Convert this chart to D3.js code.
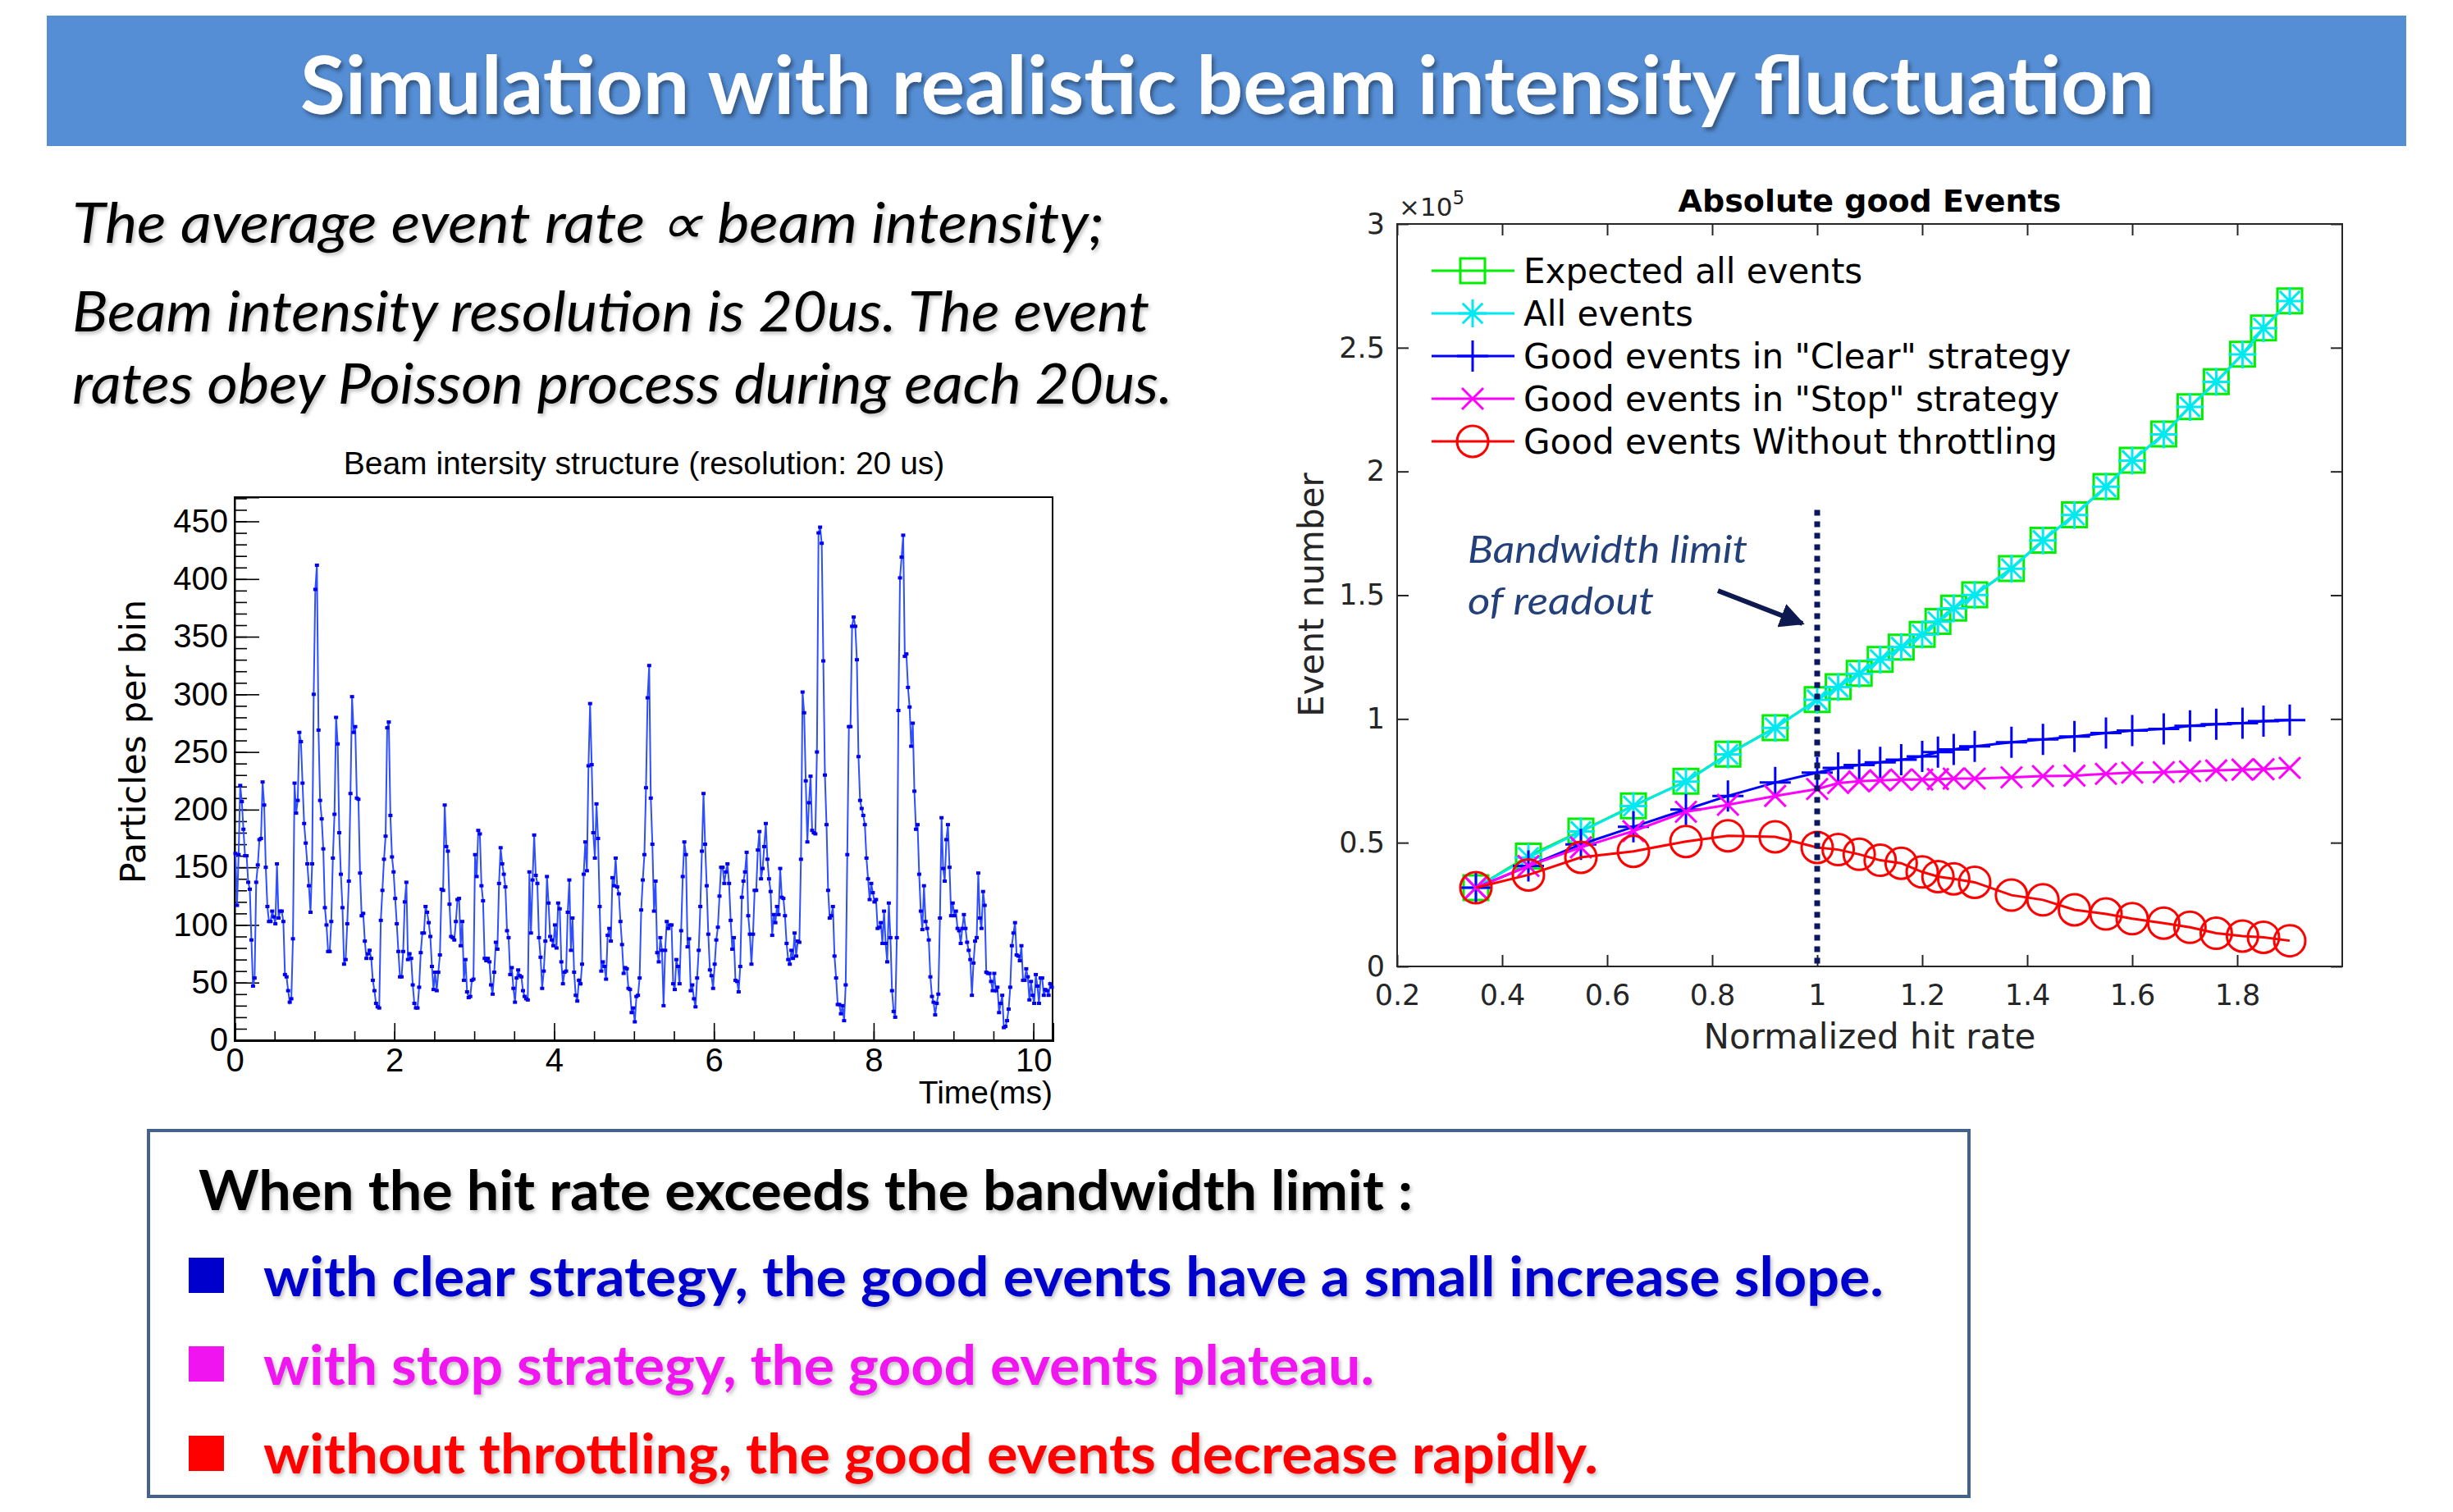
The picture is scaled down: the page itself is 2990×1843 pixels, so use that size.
<!DOCTYPE html>
<html>
<head>
<meta charset="utf-8">
<script src="https://cdn.jsdelivr.net/npm/d3@7"></script>
<style>
  body { margin: 0; background: #fff; }
</style>
</head>
<body>
<svg id="slide"></svg>
<script>
// ---- data: beam intensity per 20 us bin ----
const binWidthMs = 0.02;
const beamCounts = [
  162,117,161,221,207,183,160,160,137,131,
  87,47,54,137,152,174,175,224,204,150,
  116,103,103,112,107,101,153,106,112,112,
  103,57,55,43,33,36,88,223,197,208,
  267,259,223,188,171,153,134,111,153,300,
  391,412,269,208,192,166,115,100,77,77,
  103,158,196,280,257,180,144,115,66,70,
  101,138,214,298,267,272,210,209,145,108,
  110,86,71,75,78,71,52,43,32,29,
  28,104,130,157,177,271,276,195,159,146,
  123,101,77,55,55,77,120,137,70,75,
  71,48,32,28,28,46,76,93,93,116,
  111,102,90,64,44,59,43,59,74,131,
  130,204,168,164,118,90,89,
  87,103,122,123,82,103,52,70,42,
  37,38,52,53,161,142,182,179,134,121,
  71,69,71,68,48,40,59,85,79,136,
  167,153,144,133,95,89,57,63,45,
  33,54,61,56,55,43,38,36,35,146,
  93,139,178,143,136,89,72,45,
  60,86,142,119,90,87,82,100,80,
  119,114,68,49,59,60,111,139,78,
  106,59,39,34,52,49,66,144,172,
  147,238,292,239,180,158,205,175,
  116,60,68,64,53,91,97,86,141,
  134,158,133,127,103,83,58,63,62,
  45,44,24,28,16,38,39,54,
  113,139,161,
  219,297,325,210,170,112,138,76,
  68,89,78,30,78,103,97,100,
  100,49,44,70,64,49,95,142,172,
  161,81,88,43,48,36,29,54,78,
  116,164,214,170,134,92,61,
  56,45,66,87,98,125,150,150,136,146,
  153,136,104,79,89,52,51,42,
  64,124,138,146,163,108,92,66,
  92,130,130,165,181,140,149,168,188,
  157,140,129,91,109,102,116,109,
  149,124,123,108,84,70,66,78,
  71,93,73,86,85,157,302,284,225,172,
  206,229,182,180,179,250,440,445,431,
  329,230,187,130,106,108,116,73,54,31,
  31,23,30,17,48,161,272,272,359,
  367,359,330,246,208,201,195,187,
  158,140,122,136,128,120,122,97,
  98,102,84,112,84,68,119,
  89,43,25,20,89,286,401,419,438,
  333,335,306,289,255,275,216,183,187,144,
  112,96,134,103,97,87,55,38,33,22,
  32,40,106,193,149,138,174,187,
  150,108,119,108,112,97,95,84,97,
  109,97,85,78,70,39,67,86,89,145,
  106,97,129,117,59,58,58,51,43,
  58,43,46,24,32,39,11,12,17,27,
  46,82,93,102,74,73,69,82,52,52,
  62,55,35,51,39,32,57,47,32,54,
  54,39,44,43,39,49,46
];
const beamYTicks = [0, 50, 100, 150, 200, 250, 300, 350, 400, 450];
const beamXTicks = [0, 2, 4, 6, 8, 10];

// ---- data: absolute good events (units of 1e5) ----
const hitRate = [0.35, 0.45, 0.55, 0.65, 0.75, 0.83, 0.92, 1.0, 1.04, 1.08, 1.12, 1.16, 1.2, 1.23,
  1.26, 1.3, 1.37, 1.43, 1.49, 1.55, 1.6, 1.66, 1.71, 1.76, 1.81, 1.85, 1.9];
const expectedAll = [0.318, 0.446, 0.547, 0.649, 0.748, 0.858, 0.965, 1.078, 1.13, 1.184, 1.241, 1.29,
  1.342, 1.394, 1.448, 1.502, 1.608, 1.722, 1.825, 1.939, 2.045, 2.151, 2.262, 2.363, 2.474, 2.58, 2.689];
const allEvents = [0.318, 0.44, 0.545, 0.648, 0.747, 0.857, 0.964, 1.077, 1.129, 1.183, 1.24, 1.29,
  1.341, 1.393, 1.447, 1.501, 1.607, 1.721, 1.824, 1.938, 2.044, 2.15, 2.261, 2.362, 2.473, 2.579, 2.688];
const goodClear = [0.318, 0.406, 0.493, 0.564, 0.634, 0.689, 0.743, 0.783, 0.802, 0.814, 0.825, 0.835,
  0.849, 0.866, 0.877, 0.889, 0.906, 0.917, 0.929, 0.943, 0.953, 0.96, 0.972, 0.979, 0.983, 0.991, 0.995];
const goodStop = [0.318, 0.406, 0.481, 0.547, 0.625, 0.653, 0.689, 0.717, 0.741, 0.748, 0.752, 0.755,
  0.755, 0.757, 0.759, 0.759, 0.764, 0.769, 0.771, 0.778, 0.783, 0.785, 0.788, 0.792, 0.795, 0.797, 0.802];
const goodNoThrottle = [0.318, 0.37, 0.441, 0.465, 0.505, 0.528, 0.524, 0.481, 0.472, 0.453, 0.429, 0.417,
  0.382, 0.363, 0.354, 0.34, 0.288, 0.269, 0.229, 0.212, 0.193, 0.175, 0.158, 0.134, 0.123, 0.118, 0.104];
const rateTicks = [0.2, 0.4, 0.6, 0.8, 1, 1.2, 1.4, 1.6, 1.8];
const eventTicks = [0, 0.5, 1, 1.5, 2, 2.5, 3];
const bandwidthLimit = 1.0;

const seriesNames = ["Expected all events", "All events", 'Good events in "Clear" strategy',
  'Good events in "Stop" strategy', "Good events Without throttling"];

// ---- slide text ----
const slideTitle = "Simulation with realistic beam intensity fluctuation";
const introLines = [
  "The average event rate \u221d beam intensity;",
  "Beam intensity resolution is 20us. The event",
  "rates obey Poisson process during each 20us."
];
const summaryHead = "When the hit rate exceeds the bandwidth limit :";
const summaryLines = [
  "with clear strategy, the good events have a small increase slope.",
  "with stop strategy, the good events plateau.",
  "without throttling, the good events decrease rapidly."
];

const W = 2990, H = 1843;
const svg = d3.select("#slide").attr("width", W).attr("height", H);
svg.append("rect").attr("width", W).attr("height", H).attr("fill", "#fff");

const defs = svg.append("defs");
defs.append("filter").attr("id", "shadow")
  .attr("x", "-5%").attr("y", "-30%").attr("width", "110%").attr("height", "160%")
  .append("feDropShadow")
  .attr("dx", 3).attr("dy", 4).attr("stdDeviation", 2.5)
  .attr("flood-color", "#000").attr("flood-opacity", 0.4);
defs.append("filter").attr("id", "softshadow")
  .attr("x", "-5%").attr("y", "-30%").attr("width", "110%").attr("height", "160%")
  .append("feDropShadow")
  .attr("dx", 2).attr("dy", 3).attr("stdDeviation", 2)
  .attr("flood-color", "#000").attr("flood-opacity", 0.25);
defs.append("marker").attr("id", "arrowhead")
  .attr("viewBox", "0 0 10 10").attr("refX", 9).attr("refY", 5)
  .attr("markerWidth", 5).attr("markerHeight", 5).attr("orient", "auto")
  .append("path").attr("d", "M0,0 L10,5 L0,10 Z").attr("fill", "#0e1a4f");

// ---- title bar ----
svg.append("rect")
  .attr("x", 57).attr("y", 19).attr("width", 2876).attr("height", 159)
  .attr("fill", "#558ed5");
svg.append("text")
  .attr("x", 366).attr("y", 139)
  .attr("textLength", 2260).attr("lengthAdjust", "spacingAndGlyphs")
  .style("font-family", "Lato, 'Open Sans', sans-serif")
  .style("font-size", "98px").style("font-weight", "bold")
  .attr("fill", "#fff").attr("filter", "url(#shadow)")
  .text(slideTitle);

// ---- intro paragraph ----
const introLayout = [
  { y: 296, w: 1258 },
  { y: 404, w: 1313 },
  { y: 492, w: 1341 }
];
svg.selectAll(".intro")
  .data(introLines)
  .enter()
  .append("text")
  .attr("class", "intro")
  .attr("x", 88)
  .attr("y", (d, i) => introLayout[i].y)
  .attr("textLength", (d, i) => introLayout[i].w)
  .attr("lengthAdjust", "spacingAndGlyphs")
  .style("font-family", "Lato, 'Open Sans', sans-serif")
  .style("font-size", "68px").style("font-style", "italic")
  .attr("fill", "#000").attr("filter", "url(#softshadow)")
  .text((d) => d);

// ---- left chart: beam intensity structure ----
const bx = d3.scaleLinear().domain([0, 10.24]).range([286, 1283]);
const by = d3.scaleLinear().domain([0, 471]).range([1268, 606]);
const rootFont = "'Liberation Sans', Arial, sans-serif";

const beam = svg.append("g");

beam.append("rect")
  .attr("x", bx(0)).attr("y", by(471))
  .attr("width", bx(10.24) - bx(0)).attr("height", by(0) - by(471))
  .attr("fill", "none").attr("stroke", "#000").attr("stroke-width", 2);

// minor y ticks
beam.append("g")
  .attr("transform", `translate(${bx(0)},0)`)
  .call(d3.axisLeft(by).tickValues(d3.range(0, 471, 10)).tickSize(-15).tickFormat(""))
  .call((g) => g.select(".domain").remove())
  .call((g) => g.selectAll("line").attr("stroke", "#000").attr("stroke-width", 1.6));
// major y ticks + labels
beam.append("g")
  .attr("transform", `translate(${bx(0)},0)`)
  .call(d3.axisLeft(by).tickValues(beamYTicks).tickSize(-30).tickPadding(8))
  .call((g) => g.select(".domain").attr("stroke", "#000").attr("stroke-width", 2))
  .call((g) => g.selectAll("line").attr("stroke", "#000").attr("stroke-width", 1.6))
  .call((g) => g.selectAll("text").style("font-family", rootFont).style("font-size", "40px").attr("fill", "#000"));
// minor x ticks
beam.append("g")
  .attr("transform", `translate(0,${by(0)})`)
  .call(d3.axisBottom(bx).tickValues(d3.range(0, 10.24, 0.5)).tickSize(-11).tickFormat(""))
  .call((g) => g.select(".domain").remove())
  .call((g) => g.selectAll("line").attr("stroke", "#000").attr("stroke-width", 1.6));
// major x ticks + labels
beam.append("g")
  .attr("transform", `translate(0,${by(0)})`)
  .call(d3.axisBottom(bx).tickValues(beamXTicks).tickSize(-21).tickPadding(10).tickFormat(d3.format("d")))
  .call((g) => g.select(".domain").attr("stroke", "#000").attr("stroke-width", 3))
  .call((g) => g.selectAll("line").attr("stroke", "#000").attr("stroke-width", 1.6))
  .call((g) => g.selectAll("text").style("font-family", rootFont).style("font-size", "40px").attr("fill", "#000"));

const beamPoints = beamCounts.map((v, i) => [(i + 0.5) * binWidthMs, v]);
beam.append("path")
  .datum(beamPoints)
  .attr("fill", "none")
  .attr("stroke", "#2f4fff")
  .attr("stroke-width", 2)
  .attr("d", d3.line().x((d) => bx(d[0])).y((d) => by(d[1])));
beam.selectAll(".dot")
  .data(beamPoints)
  .enter()
  .append("rect")
  .attr("class", "dot")
  .attr("x", (d) => bx(d[0]) - 2.5)
  .attr("y", (d) => by(d[1]) - 2)
  .attr("width", 5).attr("height", 4)
  .attr("fill", "#0000ee");

beam.append("text")
  .attr("x", 785).attr("y", 578)
  .attr("text-anchor", "middle")
  .style("font-family", rootFont).style("font-size", "39px")
  .text("Beam intersity structure (resolution: 20 us)");
beam.append("text")
  .attr("x", 1283).attr("y", 1345)
  .attr("text-anchor", "end")
  .style("font-family", rootFont).style("font-size", "39px")
  .text("Time(ms)");
beam.append("text")
  .attr("transform", "translate(177,904) rotate(-90)")
  .attr("text-anchor", "middle")
  .style("font-family", "'DejaVu Sans', sans-serif").style("font-size", "43px")
  .text("Particles per bin");

// ---- right chart: absolute good events ----
const rx = d3.scaleLinear().domain([0.2, 2.0]).range([1703, 2855]);
const ry = d3.scaleLinear().domain([0, 3]).range([1178, 273]);
const mlFont = "'DejaVu Sans', sans-serif";
const axisGrey = "#262626";

const ev = svg.append("g");

ev.append("rect")
  .attr("x", rx(0.2)).attr("y", ry(3))
  .attr("width", rx(2.0) - rx(0.2)).attr("height", ry(0) - ry(3))
  .attr("fill", "#fff").attr("stroke", axisGrey).attr("stroke-width", 2);

function styleAxis(g, withText) {
  g.select(".domain").remove();
  g.selectAll("line").attr("stroke", axisGrey).attr("stroke-width", 2);
  if (withText) {
    g.selectAll("text").style("font-family", mlFont).style("font-size", "35px").attr("fill", axisGrey);
  }
}
ev.append("g")
  .attr("transform", `translate(0,${ry(0)})`)
  .call(d3.axisBottom(rx).tickValues(rateTicks).tickSize(-14).tickPadding(22).tickFormat((d) => String(d)))
  .call((g) => styleAxis(g, true));
ev.append("g")
  .attr("transform", `translate(0,${ry(3)})`)
  .call(d3.axisTop(rx).tickValues(rateTicks).tickSize(-14).tickFormat(""))
  .call((g) => styleAxis(g, false));
ev.append("g")
  .attr("transform", `translate(${rx(0.2)},0)`)
  .call(d3.axisLeft(ry).tickValues(eventTicks).tickSize(-14).tickPadding(15).tickFormat((d) => String(d)))
  .call((g) => styleAxis(g, true));
ev.append("g")
  .attr("transform", `translate(${rx(2.0)},0)`)
  .call(d3.axisRight(ry).tickValues(eventTicks).tickSize(-14).tickFormat(""))
  .call((g) => styleAxis(g, false));

// exponent label
const expLabel = ev.append("text")
  .attr("x", 1705).attr("y", 263)
  .style("font-family", mlFont).style("font-size", "31px").attr("fill", axisGrey);
expLabel.append("tspan").text("\u00d710");
expLabel.append("tspan").attr("dy", -14).style("font-size", "23px").text("5");

ev.append("text")
  .attr("x", 2279).attr("y", 258)
  .attr("text-anchor", "middle")
  .style("font-family", mlFont).style("font-size", "38px").style("font-weight", "bold")
  .attr("fill", "#000")
  .text("Absolute good Events");
ev.append("text")
  .attr("x", 2279).attr("y", 1278)
  .attr("text-anchor", "middle")
  .style("font-family", mlFont).style("font-size", "42px").attr("fill", axisGrey)
  .text("Normalized hit rate");
ev.append("text")
  .attr("transform", "translate(1613,725) rotate(-90)")
  .attr("text-anchor", "middle")
  .style("font-family", mlFont).style("font-size", "42px").attr("fill", axisGrey)
  .text("Event number");

// marker shapes
function markerPath(type, s) {
  if (type === "square") return `M${-s},${-s}H${s}V${s}H${-s}Z`;
  if (type === "plus") return `M${-s},0H${s}M0,${-s}V${s}`;
  if (type === "cross") return `M${-s},${-s}L${s},${s}M${-s},${s}L${s},${-s}`;
  if (type === "star") {
    const c = s * 0.72;
    return `M${-s},0H${s}M0,${-s}V${s}M${-c},${-c}L${c},${c}M${-c},${c}L${c},${-c}`;
  }
  return null;
}

const series = [
  { values: expectedAll, color: "#00ee00", marker: "square", size: 15 },
  { values: allEvents, color: "#00e8f0", marker: "star", size: 17 },
  { values: goodClear, color: "#0000ff", marker: "plus", size: 19 },
  { values: goodStop, color: "#ff00ff", marker: "cross", size: 13 },
  { values: goodNoThrottle, color: "#ff0000", marker: "circle", size: 19 }
];

const evLine = d3.line().x((d) => rx(d[0])).y((d) => ry(d[1]));

function drawMarker(sel, s) {
  if (s.marker === "circle") {
    sel.append("circle").attr("r", s.size)
      .attr("fill", "none").attr("stroke", s.color).attr("stroke-width", 3);
  } else {
    sel.append("path").attr("d", markerPath(s.marker, s.size))
      .attr("fill", "none").attr("stroke", s.color).attr("stroke-width", 3);
  }
}

series.forEach((s) => {
  const pts = hitRate.map((x, i) => [x, s.values[i]]);
  const g = ev.append("g");
  g.append("path").datum(pts)
    .attr("fill", "none").attr("stroke", s.color).attr("stroke-width", 3)
    .attr("d", evLine);
  g.selectAll(".m").data(pts).enter().append("g")
    .attr("class", "m")
    .attr("transform", (d) => `translate(${rx(d[0])},${ry(d[1])})`)
    .each(function () { drawMarker(d3.select(this), s); });
});

// bandwidth limit
ev.append("line")
  .attr("x1", rx(bandwidthLimit)).attr("x2", rx(bandwidthLimit))
  .attr("y1", ry(1.845)).attr("y2", ry(0))
  .attr("stroke", "#0d1660").attr("stroke-width", 7)
  .attr("stroke-dasharray", "7,7");
const noteFont = "Lato, 'Open Sans', sans-serif";
ev.append("text")
  .attr("x", 1789).attr("y", 686)
  .attr("textLength", 341).attr("lengthAdjust", "spacingAndGlyphs")
  .style("font-family", noteFont).style("font-size", "46px").style("font-style", "italic")
  .attr("fill", "#23407a").text("Bandwidth limit");
ev.append("text")
  .attr("x", 1789).attr("y", 749)
  .attr("textLength", 227).attr("lengthAdjust", "spacingAndGlyphs")
  .style("font-family", noteFont).style("font-size", "46px").style("font-style", "italic")
  .attr("fill", "#23407a").text("of readout");
ev.append("line")
  .attr("x1", 2094).attr("y1", 720).attr("x2", 2197).attr("y2", 760)
  .attr("stroke", "#0e1a4f").attr("stroke-width", 6)
  .attr("marker-end", "url(#arrowhead)");

// legend (no box)
const legend = ev.append("g");
const legendRows = [330, 382, 434, 486, 538];
series.forEach((s, i) => {
  const row = legend.append("g").attr("transform", `translate(0,${legendRows[i]})`);
  row.append("line").attr("x1", 1745).attr("x2", 1846)
    .attr("stroke", s.color).attr("stroke-width", 3);
  drawMarker(row.append("g").attr("transform", "translate(1795,0)"), s);
  row.append("text")
    .attr("x", 1857).attr("y", 15)
    .style("font-family", mlFont).style("font-size", "42px").attr("fill", "#000")
    .text(seriesNames[i]);
});

// ---- summary box ----
svg.append("rect")
  .attr("x", 181).attr("y", 1378).attr("width", 2219).attr("height", 446)
  .attr("fill", "#fff").attr("stroke", "#45628c").attr("stroke-width", 4);
svg.append("text")
  .attr("x", 242).attr("y", 1475)
  .attr("textLength", 1480).attr("lengthAdjust", "spacingAndGlyphs")
  .style("font-family", noteFont).style("font-size", "66px").style("font-weight", "bold")
  .attr("fill", "#000").attr("filter", "url(#softshadow)")
  .text(summaryHead);

const summaryColors = ["#0000cc", "#f014f0", "#ff0000"];
const summaryLayout = [
  { y: 1580, w: 1975, by: 1533 },
  { y: 1688, w: 1354, by: 1641 },
  { y: 1796, w: 1627, by: 1750 }
];
summaryLines.forEach((t, i) => {
  svg.append("rect")
    .attr("x", 230).attr("y", summaryLayout[i].by)
    .attr("width", 43).attr("height", 43)
    .attr("fill", summaryColors[i]);
  svg.append("text")
    .attr("x", 321).attr("y", summaryLayout[i].y)
    .attr("textLength", summaryLayout[i].w).attr("lengthAdjust", "spacingAndGlyphs")
    .style("font-family", noteFont).style("font-size", "66px").style("font-weight", "bold")
    .attr("fill", summaryColors[i]).attr("filter", "url(#softshadow)")
    .text(t);
});
</script>
</body>
</html>
